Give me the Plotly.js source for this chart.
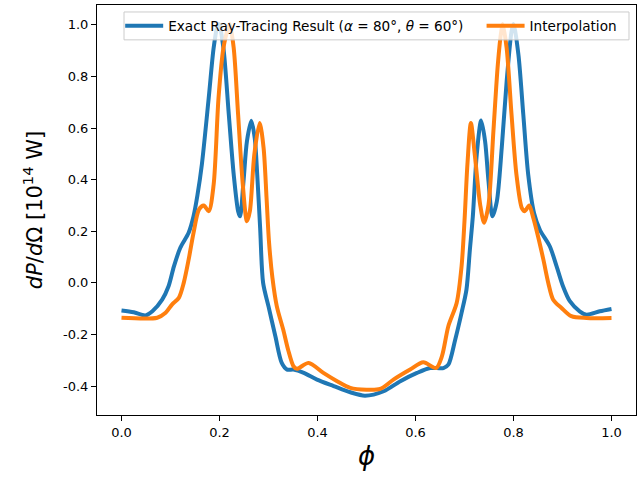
<!DOCTYPE html>
<html>
<head>
<meta charset="utf-8">
<script src="https://cdn.plot.ly/plotly-3.0.1.min.js"></script>
<style>html,body{margin:0;padding:0;background:#fff;}#chart{width:640px;height:480px;}</style>
</head>
<body>
<div id="chart"></div>
<script>
// Exact ray-tracing result (blue)
const exactPhi = [0.0, 0.025, 0.049, 0.063, 0.083, 0.096, 0.107, 0.120, 0.137, 0.147, 0.155, 0.164, 0.178, 0.188, 0.195, 0.199, 0.208, 0.219, 0.229, 0.238, 0.242, 0.249, 0.256, 0.265, 0.272, 0.277, 0.283, 0.289, 0.300, 0.314, 0.327, 0.338, 0.351, 0.372, 0.399, 0.433, 0.467, 0.497, 0.535, 0.569, 0.603, 0.630, 0.657, 0.667, 0.681, 0.694, 0.704, 0.711, 0.717, 0.725, 0.734, 0.742, 0.749, 0.757, 0.766, 0.776, 0.786, 0.796, 0.800, 0.810, 0.820, 0.830, 0.842, 0.854, 0.874, 0.888, 0.901, 0.915, 0.935, 0.949, 0.976, 1.0];
const exactP = [-0.107, -0.114, -0.126, -0.110, -0.065, -0.013, 0.064, 0.136, 0.194, 0.258, 0.340, 0.459, 0.717, 0.910, 0.990, 1.003, 0.910, 0.652, 0.420, 0.278, 0.258, 0.394, 0.549, 0.628, 0.560, 0.420, 0.210, 0.000, -0.091, -0.207, -0.310, -0.336, -0.336, -0.349, -0.375, -0.400, -0.424, -0.437, -0.420, -0.381, -0.349, -0.330, -0.330, -0.317, -0.220, -0.116, -0.026, 0.129, 0.258, 0.497, 0.629, 0.549, 0.394, 0.258, 0.316, 0.523, 0.780, 0.975, 1.003, 0.885, 0.652, 0.420, 0.270, 0.205, 0.142, 0.064, -0.013, -0.071, -0.110, -0.123, -0.110, -0.101];

// Interpolation (orange)
const interpPhi = [0.0, 0.073, 0.090, 0.103, 0.117, 0.127, 0.137, 0.147, 0.158, 0.168, 0.178, 0.188, 0.198, 0.208, 0.218, 0.221, 0.229, 0.238, 0.247, 0.256, 0.262, 0.271, 0.282, 0.290, 0.296, 0.301, 0.308, 0.317, 0.330, 0.340, 0.351, 0.358, 0.382, 0.412, 0.440, 0.467, 0.500, 0.528, 0.555, 0.589, 0.616, 0.642, 0.654, 0.667, 0.684, 0.694, 0.700, 0.706, 0.713, 0.721, 0.732, 0.740, 0.749, 0.759, 0.768, 0.775, 0.778, 0.786, 0.796, 0.806, 0.817, 0.823, 0.832, 0.840, 0.850, 0.861, 0.871, 0.881, 0.898, 0.918, 0.949, 1.0];
const interpP = [-0.135, -0.135, -0.116, -0.084, -0.058, 0.000, 0.090, 0.194, 0.284, 0.300, 0.278, 0.380, 0.717, 0.910, 0.990, 1.003, 0.910, 0.652, 0.394, 0.239, 0.278, 0.497, 0.620, 0.523, 0.330, 0.160, 0.020, -0.091, -0.181, -0.259, -0.323, -0.333, -0.310, -0.349, -0.381, -0.407, -0.414, -0.411, -0.375, -0.336, -0.308, -0.330, -0.284, -0.168, -0.078, 0.064, 0.240, 0.460, 0.620, 0.497, 0.303, 0.233, 0.303, 0.588, 0.846, 0.975, 1.003, 0.910, 0.652, 0.420, 0.290, 0.278, 0.300, 0.255, 0.181, 0.090, 0.000, -0.065, -0.097, -0.129, -0.136, -0.136];

const seriesNames = ['Exact Ray-Tracing Result (<i>α</i> = 80°, <i>θ</i> = 60°)', 'Interpolation'];
const xTicks = [0.0, 0.2, 0.4, 0.6, 0.8, 1.0];
const yTicks = [-0.4, -0.2, 0.0, 0.2, 0.4, 0.6, 0.8, 1.0];

const font = 'DejaVu Sans, sans-serif';

const traces = [
  {x: exactPhi, y: exactP, type: 'scatter', mode: 'lines', name: seriesNames[0], legend: 'legend',
   line: {color: '#1f77b4', width: 4, shape: 'spline', smoothing: 0.8}},
  {x: interpPhi, y: interpP, type: 'scatter', mode: 'lines', name: seriesNames[1], legend: 'legend2',
   line: {color: '#ff7f0e', width: 4, shape: 'spline', smoothing: 0.8}}
];

const legendCommon = {orientation: 'h', yanchor: 'middle', y: 0.949, xanchor: 'left',
  bgcolor: 'rgba(0,0,0,0)', borderwidth: 0, itemwidth: 38,
  font: {family: font, size: 13.6, color: '#000'}};

const layout = {
  width: 640, height: 480,
  margin: {l: 97, r: 4, t: 5, b: 65},
  paper_bgcolor: '#fff', plot_bgcolor: '#fff',
  font: {family: font, size: 13, color: '#000'},
  showlegend: true,
  legend: Object.assign({}, legendCommon, {x: 0.043}),
  legend2: Object.assign({}, legendCommon, {x: 0.7135}),
  shapes: [{type: 'rect', xref: 'paper', yref: 'paper', x0: 0.0501, x1: 0.987, y0: 0.915, y1: 0.983,
            fillcolor: 'rgba(255,255,255,0.8)', line: {color: '#cccccc', width: 1}, layer: 'above'}],
  xaxis: {range: [-0.05, 1.05], tickvals: xTicks, ticktext: xTicks.map(v => v.toFixed(1)),
          ticks: 'outside', ticklen: 5, tickwidth: 1, tickcolor: '#000',
          showline: true, linecolor: '#000', linewidth: 1, mirror: true,
          showgrid: false, zeroline: false,
          tickfont: {family: font, size: 13},
          title: {text: '<i>ϕ</i>', font: {family: font, size: 26}, standoff: 8}},
  yaxis: {range: [-0.512, 1.077], tickvals: yTicks, ticktext: yTicks.map(v => v.toFixed(1)),
          ticks: 'outside', ticklen: 5, tickwidth: 1, tickcolor: '#000',
          showline: true, linecolor: '#000', linewidth: 1, mirror: true,
          showgrid: false, zeroline: false,
          tickfont: {family: font, size: 13},
          title: {text: '<i>dP</i>/<i>d</i>Ω [10<sup>14</sup> W]', font: {family: font, size: 21}, standoff: 14}}
};

Plotly.newPlot('chart', traces, layout, {displayModeBar: false, staticPlot: true});
</script>
</body>
</html>
